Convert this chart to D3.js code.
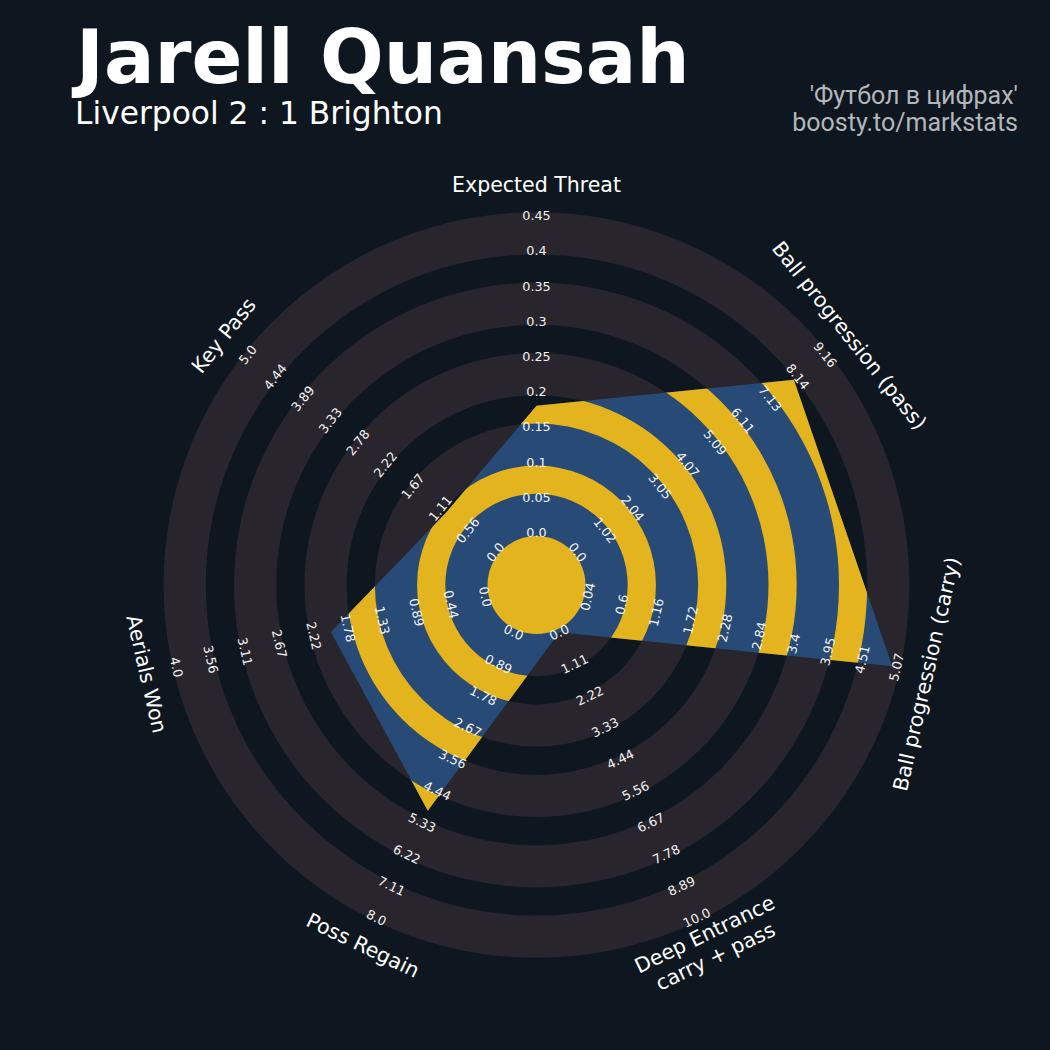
<!DOCTYPE html>
<html>
<head>
<meta charset="utf-8">
<script src="https://cdn.jsdelivr.net/npm/d3@7"></script>
<style>
  html, body { margin: 0; padding: 0; background: #0e1720; }
  svg { display: block; }
</style>
</head>
<body>
<svg id="chart" width="1050" height="1050"></svg>
<script>
// ---- data ----
const params = ["Expected Threat", "Ball progression (pass)", "Ball progression (carry)",
  "Deep Entrance\ncarry + pass", "Poss Regain", "Aerials Won", "Key Pass"];
const values = [0.18, 8.0, 5.0, 0.0, 5.0, 2.0, 1.0];
const rangeMin = [0, 0, 0.04, 0, 0, 0, 0];
const rangeMax = [0.45, 9.16, 5.07, 10.0, 8.0, 4.0, 5.0];
const ticksXT = ["0.0","0.05","0.1","0.15","0.2","0.25","0.3","0.35","0.4","0.45"];
const ticksPass = ["0.0","1.02","2.04","3.05","4.07","5.09","6.11","7.13","8.14","9.16"];
const ticksCarry = ["0.04","0.6","1.16","1.72","2.28","2.84","3.4","3.95","4.51","5.07"];
const ticksDeep = ["0.0","1.11","2.22","3.33","4.44","5.56","6.67","7.78","8.89","10.0"];
const ticksRegain = ["0.0","0.89","1.78","2.67","3.56","4.44","5.33","6.22","7.11","8.0"];
const ticksAerial = ["0.0","0.44","0.89","1.33","1.78","2.22","2.67","3.11","3.56","4.0"];
const ticksKey = ["0.0","0.56","1.11","1.67","2.22","2.78","3.33","3.89","4.44","5.0"];
const tickLabels = [ticksXT, ticksPass, ticksCarry, ticksDeep, ticksRegain, ticksAerial, ticksKey];

const title = "Jarell Quansah";
const subtitle = "Liverpool 2 : 1 Brighton";
const credits = ["'Футбол в цифрах'", "boosty.to/markstats"];

// ---- layout ----
const W = 1050, H = 1050;
const cx = 536.5, cy = 585;
const numRings = 9;
const rInner = 52.5, rOuter = 369.3, edge = 3.5, labelR = 400;
const colors = { bg: "#0e1720", ring: "#28252c", radar: "#274b76", rings: "#e3b41d", text: "#ffffff", credit: "#b3b6ba" };

const svg = d3.select("#chart");
svg.append("rect").attr("width", W).attr("height", H).attr("fill", colors.bg);

const ringScale = d3.scaleLinear().domain([0, numRings]).range([rInner, rOuter]);
const n = params.length;
const angle = i => i * 2 * Math.PI / n;
const valueScales = params.map((p, i) => d3.scaleLinear().domain([rangeMin[i], rangeMax[i]]).range([rInner, rOuter]));

const g = svg.append("g").attr("transform", `translate(${cx},${cy})`);
const arc = d3.arc().startAngle(0).endAngle(2 * Math.PI);

// background rings (outer set)
const outerRings = d3.range(0, numRings, 2).map(k => [ringScale(k) - edge, ringScale(k + 1) + edge]);
g.selectAll("path.bgring").data(outerRings).join("path")
  .attr("class", "bgring")
  .attr("d", d => arc({ innerRadius: d[0], outerRadius: d[1] }))
  .attr("fill", colors.ring);

// radar polygon
const radial = d3.lineRadial()
  .angle((d, i) => angle(i))
  .radius((d, i) => valueScales[i](d))
  .curve(d3.curveLinearClosed);
const polyPath = radial(values);
svg.append("defs").append("clipPath").attr("id", "radarClip")
  .append("path").attr("d", polyPath);
g.append("path").attr("d", polyPath).attr("fill", colors.radar);

// inner rings clipped to radar
const innerRings = [[0, ringScale(0) - edge]].concat(
  d3.range(1, numRings - 1, 2).map(k => [ringScale(k) + edge, ringScale(k + 1) - edge]));
const clipG = g.append("g").attr("clip-path", "url(#radarClip)");
clipG.selectAll("path").data(innerRings).join("path")
  .attr("d", d => arc({ innerRadius: d[0], outerRadius: d[1] }))
  .attr("fill", colors.rings);

// rotation helper
function rot(i) {
  const deg = angle(i) * 180 / Math.PI;
  if (deg <= 90) return deg;
  if (deg >= 270) return deg - 360;
  return deg - 180;
}

// range labels
params.forEach((p, i) => {
  const a = angle(i);
  tickLabels[i].forEach((t, j) => {
    const r = ringScale(j);
    const x = r * Math.sin(a), y = -r * Math.cos(a);
    g.append("text")
      .attr("transform", `translate(${x},${y}) rotate(${rot(i)})`)
      .attr("text-anchor", "middle")
      .attr("dominant-baseline", "central")
      .attr("font-family", "DejaVu Sans")
      .attr("font-size", 12.8)
      .attr("fill", "#f2f2f2")
      .text(t);
  });
});

// param labels
params.forEach((p, i) => {
  const a = angle(i);
  const x = labelR * Math.sin(a), y = -labelR * Math.cos(a);
  const lines = p.split("\n");
  const lh = 1.2 * 20.5;
  const t = g.append("text")
    .attr("transform", `translate(${x},${y}) rotate(${rot(i)})`)
    .attr("text-anchor", "middle")
    .attr("font-family", "DejaVu Sans")
    .attr("font-size", 20.5)
    .attr("fill", colors.text);
  lines.forEach((l, k) => {
    t.append("tspan").attr("x", 0)
      .attr("y", (k - (lines.length - 1) / 2) * lh)
      .attr("dominant-baseline", "central")
      .text(l);
  });
});

// titles
svg.append("text").attr("x", 76).attr("y", 83)
  .attr("font-family", "DejaVu Sans").attr("font-weight", "bold")
  .attr("font-size", 75).attr("fill", colors.text).text(title);
svg.append("text").attr("x", 75).attr("y", 124)
  .attr("font-family", "DejaVu Sans").attr("font-size", 31.3)
  .attr("fill", colors.text).text(subtitle);
credits.forEach((c, k) => {
  svg.append("text").attr("x", 1018).attr("y", 104 + k * 27)
    .attr("text-anchor", "end")
    .attr("font-family", "Roboto").attr("font-size", 25)
    .attr("fill", colors.credit).text(c);
});
</script>
</body>
</html>
